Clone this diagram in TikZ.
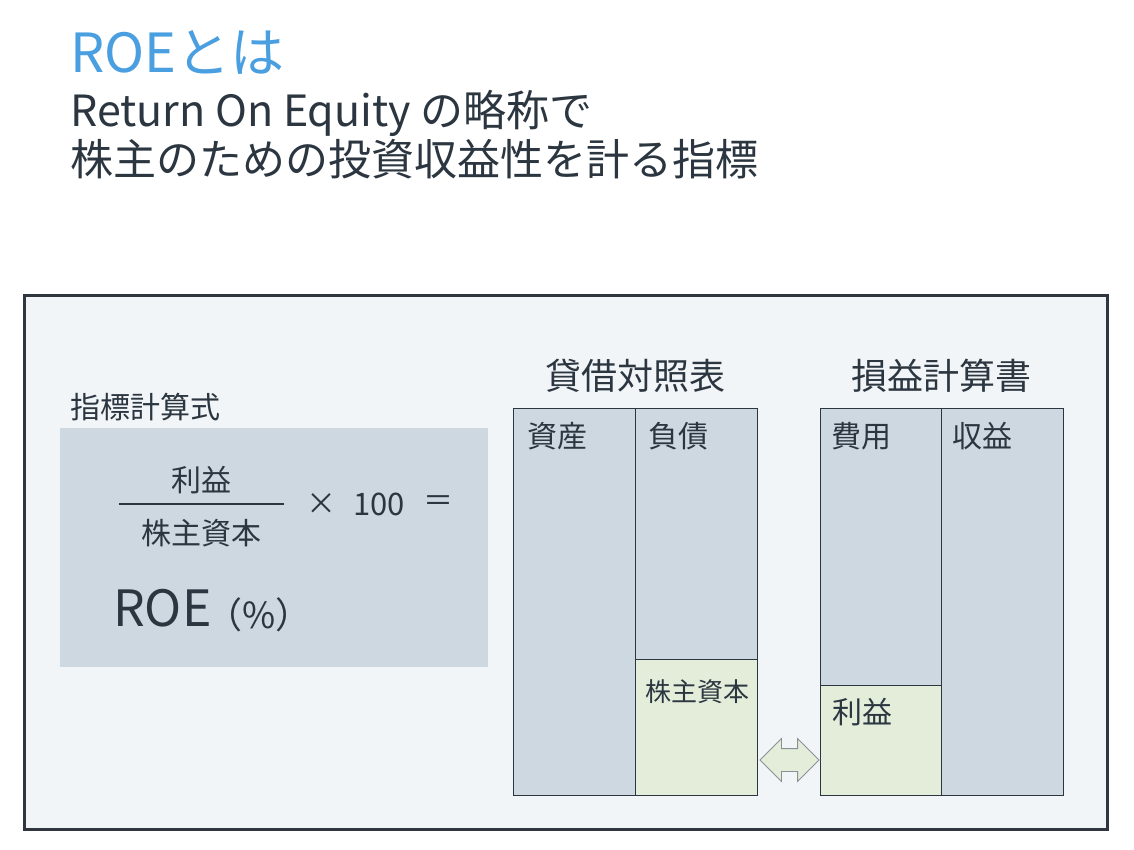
\documentclass[tikz,border=0pt]{standalone}
\usepackage{fontspec}
\setmainfont{Noto Sans CJK JP}
\usetikzlibrary{shapes.arrows}
\definecolor{roeblue}{HTML}{4A9FE0}
\definecolor{roeink}{HTML}{2B3640}
\definecolor{roeframe}{HTML}{2F363D}
\definecolor{roepanel}{HTML}{F2F5F8}
\definecolor{roegrey}{HTML}{CDD8E1}
\definecolor{roegreen}{HTML}{E3EDDA}
\definecolor{roearrow}{HTML}{8A9096}
\newcommand{\roesize}[1]{\fontsize{#1}{#1}\selectfont}

\begin{document}
\begin{tikzpicture}[x=1pt, y=-1pt, inner sep=0pt, text=roeink,
  cell/.style={draw=roeink, line width=1.2pt, fill=roegrey, anchor=north west},
  gain/.style={cell, fill=roegreen},
  tag/.style={anchor=west, font=\roesize{30}},
  head/.style={font=\roesize{36}}]
  \useasboundingbox (0,0) rectangle (1134,849);
  \fill[white] (0,0) rectangle (1134,849);
  % heading
  \node[anchor=base west, text=roeblue, font=\roesize{54}] (title) at (70,72) {ROEとは};
  \node[anchor=base west, font=\roesize{43}] (sub1) at (70,126) {Return On Equity の略称で};
  \node[anchor=base west, font=\roesize{43}] (sub2) at (70,175) {株主のための投資収益性を計る指標};
  % panel
  \node[draw=roeframe, line width=3pt, fill=roepanel, minimum width=1083pt, minimum height=534pt, anchor=north west] (panel) at (23,294) {};
  % formula
  \node[tag] (calclbl) at (70,407) {指標計算式};
  \node[fill=roegrey, minimum width=428pt, minimum height=239pt, anchor=north west] (calcbox) at (60,428) {};
  \node[font=\roesize{30}] (num) at (201,480) {利益};
  \node[font=\roesize{30}] (den) at (201,533) {株主資本};
  \coordinate (barL) at (119,504);
  \coordinate (barR) at (284,504);
  \draw[roeink, line width=1.2pt] (barL) -- (barR);
  \node[font=\roesize{30}] (times) at (321,504) {×};
  \node[font=\roesize{31}] (hundred) at (379,504) {100};
  \node[font=\roesize{30}] (equals) at (438,504) {＝};
  \node[anchor=base west, font=\roesize{50}] (roe) at (113,626) {ROE};
  \node[anchor=base west, font=\roesize{36}] (pct) at (206,628) {（\%）};
  % balance sheet
  \node[head] (bshead) at (635,376) {貸借対照表};
  \node[cell, minimum width=122pt, minimum height=387pt] (asset) at (513,408) {};
  \node[cell, minimum width=122pt, minimum height=251pt] (debt) at (635,408) {};
  \node[gain, minimum width=122pt, minimum height=136pt] (equity) at (635,659) {};
  \node[tag] at ([shift={(14,28)}]asset.north west) {資産};
  \node[tag] at ([shift={(13,28)}]debt.north west) {負債};
  \node[tag, font=\roesize{26}] at ([shift={(10,33)}]equity.north west) {株主資本};
  % income statement
  \node[head] (plhead) at (941.5,376) {損益計算書};
  \node[cell, minimum width=121pt, minimum height=277pt] (cost) at (820,408) {};
  \node[gain, minimum width=121pt, minimum height=110pt] (profit) at (820,685) {};
  \node[cell, minimum width=122pt, minimum height=387pt] (revenue) at (941,408) {};
  \node[tag] at ([shift={(11,28)}]cost.north west) {費用};
  \node[tag] at ([shift={(11,28)}]revenue.north west) {収益};
  \node[tag] at ([shift={(12,27)}]profit.north west) {利益};
  % link
  \node[double arrow, draw=roearrow, fill=roegreen, line width=.8pt, inner xsep=0pt, inner ysep=11pt,
        minimum height=59pt, double arrow head extend=10pt] (link) at (789.5,760) {};
\end{tikzpicture}
\end{document}
